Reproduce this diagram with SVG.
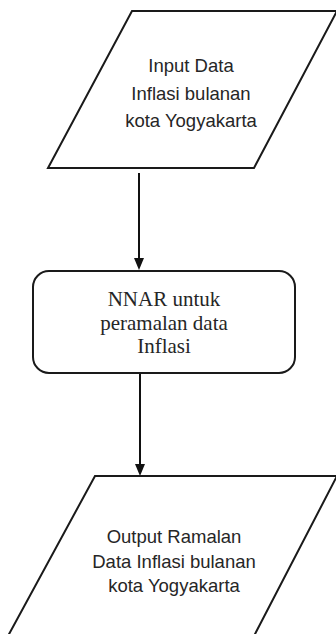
<svg xmlns="http://www.w3.org/2000/svg" width="336" height="634" viewBox="0 0 336 634">
  <style>
    .shape { fill: #ffffff; stroke: #1a1a1a; stroke-width: 2; }
    .sans { font-family: "Liberation Sans", Arial, sans-serif; font-size: 18.5px; fill: #262626; text-anchor: middle; }
    .serif { font-family: "Liberation Serif", "Times New Roman", serif; font-size: 21px; fill: #262626; text-anchor: middle; }
    .conn { stroke: #111111; stroke-width: 2; fill: none; }
    .head { fill: #111111; stroke: none; }
  </style>
  <rect width="336" height="634" fill="#ffffff"/>
  <g id="connectors">
    <line class="conn" x1="139" y1="173" x2="139" y2="262"/>
    <polygon class="head" points="134,258 144,258 139,270"/>
    <line class="conn" x1="140" y1="373" x2="140" y2="468"/>
    <polygon class="head" points="135,464 145,464 140,476"/>
  </g>
  <g id="input">
    <polygon class="shape" points="132,11 337,11 254,168 48,168"/>
    <text class="sans" x="191" y="72">Input Data</text>
    <text class="sans" x="191" y="99.5">Inflasi bulanan</text>
    <text class="sans" x="191" y="127">kota Yogyakarta</text>
  </g>
  <g id="nnar">
    <rect class="shape" x="33" y="271" width="262" height="102" rx="16" ry="16"/>
    <text class="serif" x="164" y="306">NNAR untuk</text>
    <text class="serif" x="164" y="330">peramalan data</text>
    <text class="serif" x="164" y="353">Inflasi</text>
  </g>
  <g id="output">
    <polygon class="shape" points="95,476 337,476 254,636 8,636"/>
    <text class="sans" x="174" y="543">Output Ramalan</text>
    <text class="sans" x="174" y="567.5">Data Inflasi bulanan</text>
    <text class="sans" x="174" y="592">kota Yogyakarta</text>
  </g>
</svg>
